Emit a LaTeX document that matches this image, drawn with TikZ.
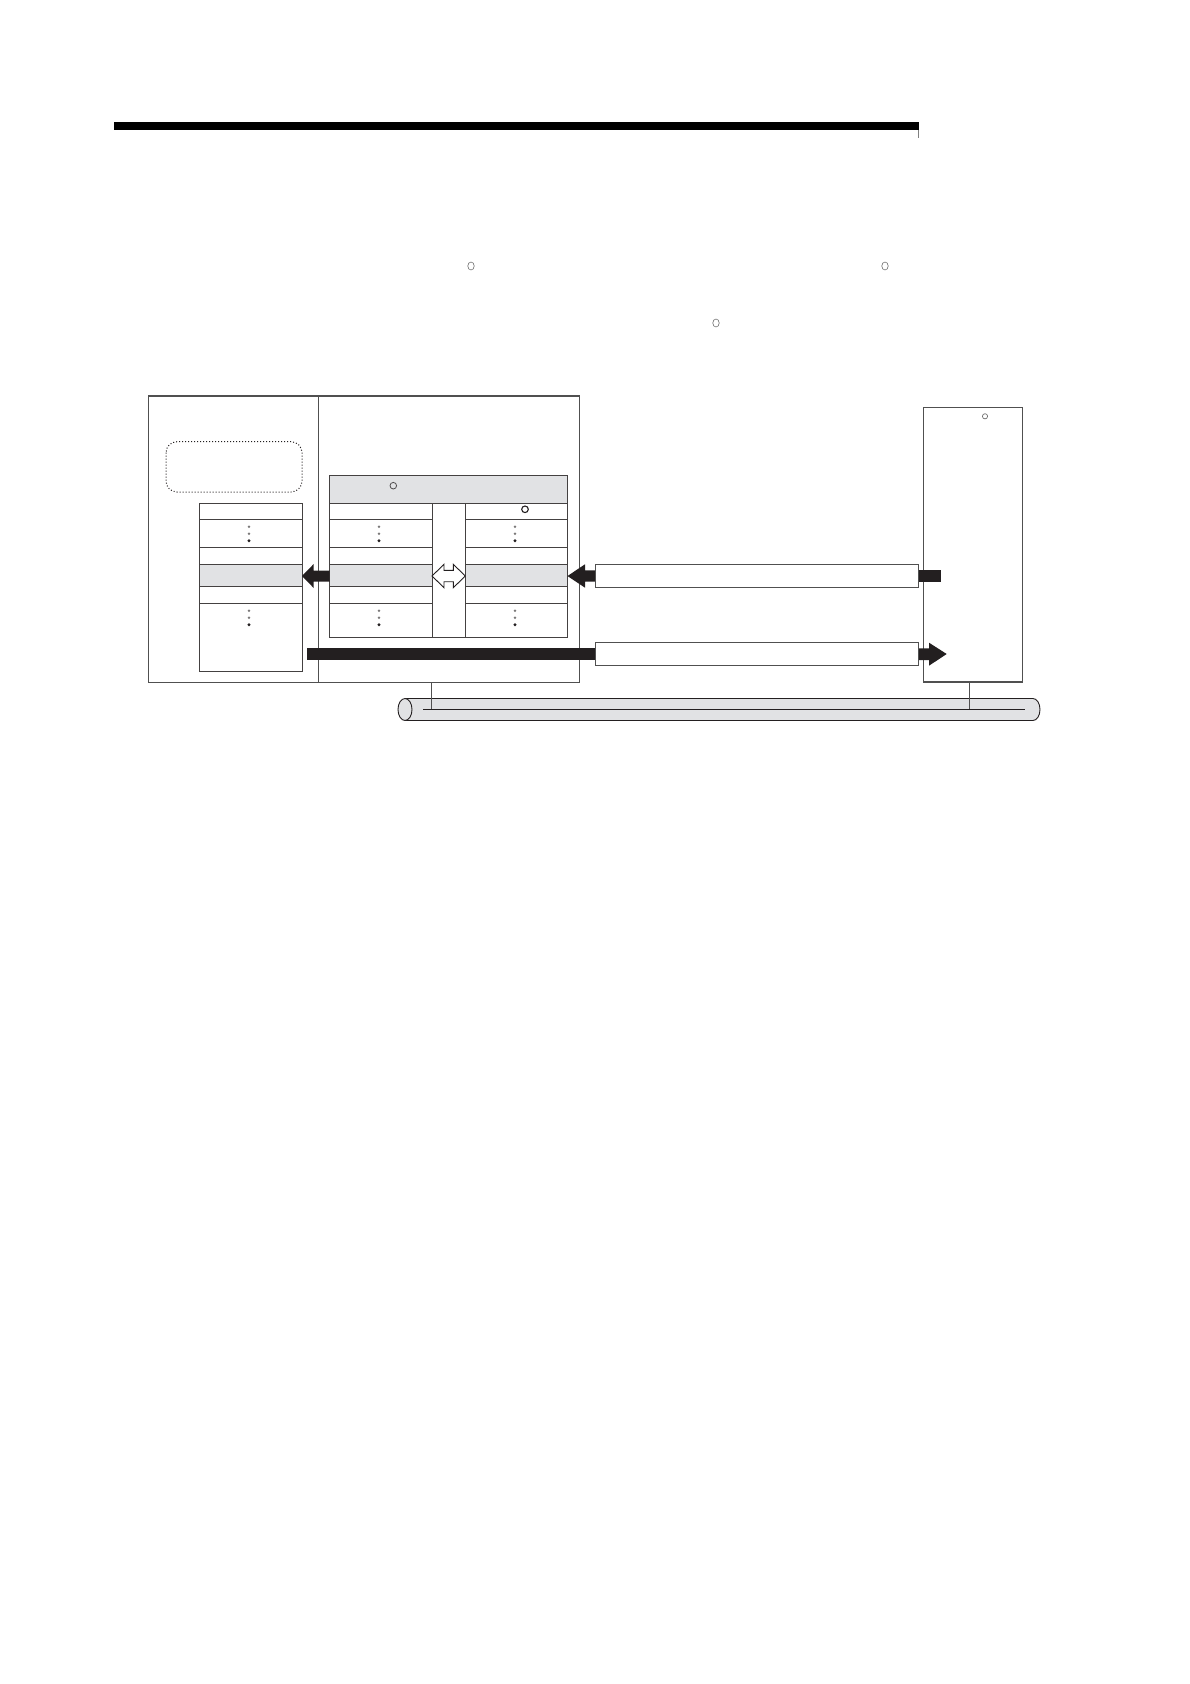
\documentclass[tikz,border=0pt]{standalone}
\usetikzlibrary{calc}
\definecolor{ink}{HTML}{231F20}
\definecolor{fillgray}{HTML}{E1E2E4}
\definecolor{linegray}{HTML}{505050}
\definecolor{circgray}{HTML}{6E6E6E}
\begin{document}
\begin{tikzpicture}[x=1pt,y=-1pt,
  box/.style={draw=linegray,line width=1.1pt},
  cell/.style={draw=ink!85,line width=1pt},
  graycell/.style={cell,fill=fillgray},
  blackarrow/.style={fill=ink},
  openarrow/.style={draw=ink,fill=white,line width=0.9pt},
  labelbar/.style={draw=linegray,fill=white,line width=1pt},
  smallcirc/.style={draw=circgray,line width=0.6pt},
  cyl/.style={draw=ink,fill=fillgray,line width=0.9pt},
  tap/.style={draw=linegray,line width=0.8pt}]
\useasboundingbox (0,0) rectangle (1190,1684);

% header rule
\fill[black] (114,122) rectangle (918.5,130);
\draw[gray,line width=0.4pt] (918.5,130) -- (918.5,138);

% circles left from the removed text
\draw[smallcirc] (471,266) ellipse [x radius=3.2,y radius=4];
\draw[smallcirc] (885,266) ellipse [x radius=3.2,y radius=4];
\draw[smallcirc] (716,323) ellipse [x radius=3.2,y radius=4];

% outer boxes
\draw[box] (148.3,396) rectangle (579.3,682.3);
\draw[box] (318.7,396) -- (318.7,682.3);
\draw[box] (923.3,407.7) rectangle (1022.7,682);
\draw[smallcirc,line width=0.7pt] (985,416.3) circle (2.6);

% dotted rounded box
\draw[draw=ink,dotted,line width=1pt,rounded corners=11pt] (166,441.7) rectangle (302,492);

% left table
\fill[fillgray] (199.7,564.3) rectangle (302,586.7);
\foreach \yy in {519.3,547.7,564.3,586.7,603.7}{\draw[cell] (199.7,\yy) -- (302,\yy);}
\draw[cell] (199.7,503.3) rectangle (302,671);

% middle table
\draw[graycell] (329.7,475) rectangle (567.7,503);
\fill[fillgray] (329.7,564.3) rectangle (432,586.7);
\fill[fillgray] (465.3,564.3) rectangle (567.7,586.7);
\foreach \yy in {519.3,547.7,564.3,586.7,603.7}{
  \draw[cell] (329.7,\yy) -- (432,\yy);
  \draw[cell] (465.3,\yy) -- (567.7,\yy);}
\draw[cell] (329.7,503) rectangle (432,637.3);
\draw[cell] (465.3,503) rectangle (567.7,637.3);
\draw[cell] (432,637.3) -- (465.3,637.3);
\draw[cell] (329.7,475) rectangle (567.7,637.3);
\draw[smallcirc,draw=ink!80,line width=0.8pt] (393.3,485.7) circle (3.3);
\draw[draw=ink,line width=1.1pt] (525,509.3) circle (3.3);

% vertical dots
\foreach \xx in {249,379,515}{
  \foreach \yb in {526.7,610.7}{
    \fill[ink!60] (\xx,\yb) circle (1.3);
    \fill[ink!60] (\xx,\yb+7) circle (1.3);
    \fill[ink] (\xx,\yb+14) circle (1.7);}}

% arrows
\coordinate (midL) at (329.7,576);
\coordinate (leftT) at (302,576);
\fill[blackarrow] (midL) ++(0,-5.5) -- (313.7,570.5) -- (313.7,564) -- (leftT) -- (313.7,588) -- (313.7,581.5) -- ($(midL)+(0,5.5)$) -- cycle;

\draw[openarrow] (432,576) -- (444,564.3) -- (444,570.3) -- (453.3,570.3) -- (453.3,564.3) -- (465.3,576) -- (453.3,587.7) -- (453.3,581.7) -- (444,581.7) -- (444,587.7) -- cycle;

\fill[blackarrow] (596,570.3) -- (585,570.3) -- (585,564.3) -- (567.5,576) -- (585,587.7) -- (585,581.7) -- (596,581.7) -- cycle;
\fill[blackarrow] (918,570.3) rectangle (941,581.7);
\draw[labelbar] (595.7,564.3) rectangle (918.3,587);

\fill[blackarrow] (306.7,648.3) rectangle (596,660);
\fill[blackarrow] (918,648.3) -- (929,648.3) -- (929,642.7) -- (946.7,654) -- (929,665.7) -- (929,660) -- (918,660) -- cycle;
\draw[labelbar] (595.7,642.7) rectangle (918.3,665.3);

% network cable
\draw[cyl] (405,698.5) -- (1033,698.5) arc[start angle=-90,end angle=90,x radius=7,y radius=11] -- (405,720.5);
\draw[cyl] (405,709.5) ellipse [x radius=7,y radius=11];
\draw[draw=ink,line width=0.9pt] (423,709.3) -- (1025,709.3);
\draw[tap] (431,682.3) -- (431,709.3);
\draw[tap] (969,682) -- (969,709.3);
\end{tikzpicture}
\end{document}
